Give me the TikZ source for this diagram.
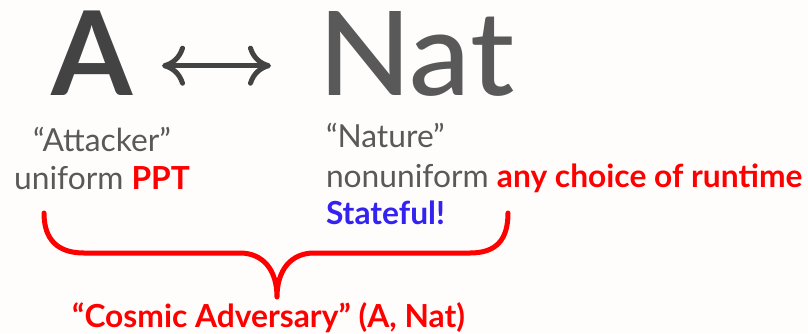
\documentclass[tikz,border=0pt]{standalone}
\usepackage{fontspec}
\setmainfont{Lato}
\usepackage{graphicx}
\usetikzlibrary{arrows.meta}
\IfFontExistsTF{Lato Medium}
  {\newfontfamily\natfont{Lato Medium}}
  {\newfontfamily\natfont{Lato}}
\definecolor{pagebg}{RGB}{255,252,252}
\definecolor{darkgray}{RGB}{67,67,67}
\definecolor{textgray}{RGB}{89,89,89}
\definecolor{hotred}{RGB}{255,0,0}
\definecolor{stateblue}{RGB}{51,34,240}
\newcommand{\bodysize}{\fontsize{31.75}{38}\selectfont}
\newcommand{\bigsize}{\fontsize{117}{117}\selectfont}
\tikzset{
  txt/.style={inner sep=0pt, outer sep=0pt},
  bigletter/.style={txt, anchor=base west, font=\bigsize},
  body/.style={txt, font=\bodysize, text=textgray},
  cmhead/.tip={Computer Modern Rightarrow[length=23pt, width=40pt]},
  swap/.style={draw=darkgray, line width=5pt, {cmhead}-{cmhead}},
  brace/.style={draw=hotred, line width=5pt, line cap=round, line join=round}
}
\begin{document}
\begin{tikzpicture}[x=1pt, y=-1pt]
  \fill[pagebg] (0,0) rectangle (808,333);
  \useasboundingbox (0,0) rectangle (808,333);

  % headline: A <-> Nat
  \node[bigletter, text=darkgray, font=\bigsize\bfseries] (A) at (51,95) {A};
  \node[bigletter, text=textgray, font=\bigsize\natfont] (Nat) at (318,95) {\scalebox{1.045}[1]{Nat}};
  \coordinate (swapL) at (162,65.7);
  \coordinate (swapR) at (271,65.7);
  \draw[swap] (swapL) -- (swapR);

  % description of the attacker
  \node[body, anchor=base] (att) at (102,151) {“Attacker”};
  \node[body, anchor=base] (uni) at (102,189) {uniform \textcolor{hotred}{\bfseries PPT}};

  % description of nature
  \node[body, anchor=base west] (nat) at (326,147) {“Nature”};
  \node[body, anchor=base west] (nonuni) at (326,187) {nonuniform \textcolor{hotred}{\bfseries any choice of runtime}};
  \node[body, anchor=base west, text=stateblue, font=\bodysize\bfseries] (stf) at (326,224) {Stateful!};

  % brace grouping both parties
  \coordinate (bl) at (44,213);
  \coordinate (br) at (508,213);
  \coordinate (tip) at (277,297);
  \draw[brace] (bl) .. controls (44,240) and (58,253) .. (84,253)
    -- (240,253) .. controls (263,253) and (277,270) .. (tip)
    .. controls (277,270) and (291,253) .. (314,253)
    -- (470,253) .. controls (496,253) and (508,240) .. (br);

  \node[body, anchor=base, text=hotred, font=\bodysize\bfseries] (cosmic) at (268.5,327)
    {“Cosmic Adversary” (A, Nat)};
\end{tikzpicture}
\end{document}
